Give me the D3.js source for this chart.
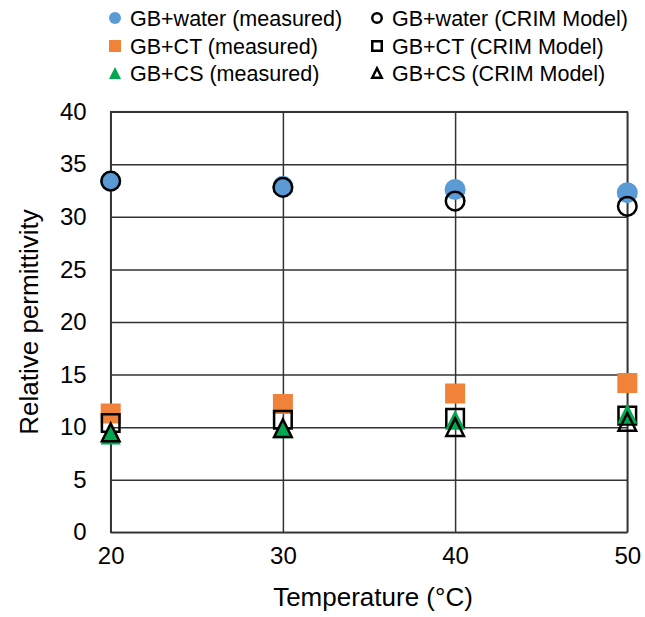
<!DOCTYPE html>
<html>
<head>
<meta charset="utf-8">
<script src="https://cdn.jsdelivr.net/npm/d3@7"></script>
<style>
  html, body { margin: 0; padding: 0; background: #fff; }
  svg { display: block; font-family: "Liberation Sans", Arial, sans-serif; }
</style>
</head>
<body>
<svg id="chart" width="645" height="617"></svg>
<script>
// Temperatures (°C) at which permittivity was evaluated
const temperatures = [20, 30, 40, 50];

// Relative permittivity, measured
const waterMeasured = [33.4, 32.9, 32.6, 32.3];
const ctMeasured    = [11.3, 12.2, 13.2, 14.2];
const csMeasured    = [9.3, 9.9, 10.7, 11.3];

// Relative permittivity, CRIM model
const waterCrim = [33.4, 32.8, 31.5, 31.0];
const ctCrim    = [10.4, 10.7, 10.9, 11.1];
const csCrim    = [9.5, 9.9, 10.0, 10.5];

const xTicks = [20, 30, 40, 50];
const yTicks = [0, 5, 10, 15, 20, 25, 30, 35, 40];

const seriesNames = [
  "GB+water (measured)", "GB+water (CRIM Model)",
  "GB+CT (measured)", "GB+CT (CRIM Model)",
  "GB+CS (measured)", "GB+CS (CRIM Model)"
];

// Series in drawing order, with marker style
const series = [
  { name: seriesNames[0], values: waterMeasured, shape: "circle",   filled: true,  color: "#5B9BD5" },
  { name: seriesNames[1], values: waterCrim,     shape: "circle",   filled: false, color: "#000" },
  { name: seriesNames[2], values: ctMeasured,    shape: "square",   filled: true,  color: "#F0823A" },
  { name: seriesNames[3], values: ctCrim,        shape: "square",   filled: false, color: "#000" },
  { name: seriesNames[4], values: csMeasured,    shape: "triangle", filled: true,  color: "#00A84F" },
  { name: seriesNames[5], values: csCrim,        shape: "triangle", filled: false, color: "#000" }
];

const svg = d3.select("#chart");
const W = 645, H = 617;
const margin = { left: 110.7, right: W - 627.3, top: 111.7, bottom: H - 532.3 };

const x = d3.scaleLinear().domain([20, 50]).range([margin.left, W - margin.right]);
const y = d3.scaleLinear().domain([0, 40]).range([H - margin.bottom, margin.top]);

const gridColor = "#333";
const fontFamily = "Liberation Sans, Arial, sans-serif";

// Horizontal gridlines
svg.append("g")
  .attr("transform", `translate(${margin.left},0)`)
  .call(d3.axisLeft(y).tickValues(yTicks).tickSize(-(x.range()[1] - x.range()[0])).tickFormat(""))
  .call(g => g.select(".domain").remove())
  .call(g => g.selectAll("line").attr("stroke", gridColor).attr("stroke-width", 1.5));

// Vertical gridlines
svg.append("g")
  .attr("transform", `translate(0,${y(0)})`)
  .call(d3.axisBottom(x).tickValues(xTicks).tickSize(-(y.range()[0] - y.range()[1])).tickFormat(""))
  .call(g => g.select(".domain").remove())
  .call(g => g.selectAll("line").attr("stroke", gridColor).attr("stroke-width", 1.5));

// Plot frame
svg.append("rect")
  .attr("x", x(20)).attr("y", y(40))
  .attr("width", x(50) - x(20)).attr("height", y(0) - y(40))
  .attr("fill", "none").attr("stroke", gridColor).attr("stroke-width", 1.5);

// Tick labels
const yAxis = svg.append("g")
  .attr("transform", `translate(${margin.left},0)`)
  .call(d3.axisLeft(y).tickValues(yTicks).tickSize(0).tickPadding(24));
yAxis.select(".domain").remove();
yAxis.selectAll("text").attr("font-size", 24).attr("fill", "#000").attr("font-family", fontFamily);

const xAxis = svg.append("g")
  .attr("transform", `translate(0,${y(0)})`)
  .call(d3.axisBottom(x).tickValues(xTicks).tickSize(0).tickPadding(15));
xAxis.select(".domain").remove();
xAxis.selectAll("text").attr("font-size", 24).attr("fill", "#000").attr("font-family", fontFamily);

// Axis titles
svg.append("text")
  .attr("x", 373).attr("y", 606)
  .attr("text-anchor", "middle").attr("font-size", 26)
  .text("Temperature (°C)");

svg.append("text")
  .attr("transform", `translate(38,${(y(0) + y(40)) / 2}) rotate(-90)`)
  .attr("text-anchor", "middle").attr("font-size", 26)
  .text("Relative permittivity");

// Marker path generators
function markerPath(shape, size) {
  if (shape === "circle") {
    const r = size / 2;
    return `M${-r},0A${r},${r} 0 1,0 ${r},0A${r},${r} 0 1,0 ${-r},0Z`;
  }
  if (shape === "square") {
    const h = size / 2;
    return `M${-h},${-h}H${h}V${h}H${-h}Z`;
  }
  const h = size / 2;
  return `M0,${-h}L${h},${h}L${-h},${h}Z`;
}

// Data markers
series.forEach(s => {
  const full = s.shape === "circle" ? 21 : 20;
  const openSize = s.shape === "circle" ? 18.6 : 17.6;
  svg.append("g").selectAll("path")
    .data(temperatures.map((t, i) => ({ t, v: s.values[i] })))
    .join("path")
    .attr("transform", d => `translate(${x(d.t)},${y(d.v)})`)
    .attr("d", markerPath(s.shape, s.filled ? full : openSize))
    .attr("fill", s.filled ? s.color : "none")
    .attr("stroke", s.filled ? "none" : s.color)
    .attr("stroke-width", s.filled ? 0 : 2.5)
    .attr("stroke-linejoin", "miter");
});

// Legend: measured series on the left, CRIM model on the right
const legendCols = [115, 377];
const legendRows = [18, 46, 73];
const legendItems = [
  { s: series[0], col: 0, row: 0 },
  { s: series[2], col: 0, row: 1 },
  { s: series[4], col: 0, row: 2 },
  { s: series[1], col: 1, row: 0 },
  { s: series[3], col: 1, row: 1 },
  { s: series[5], col: 1, row: 2 }
];
const legend = svg.append("g");
legendItems.forEach(it => {
  const cx = legendCols[it.col], cy = legendRows[it.row];
  legend.append("path")
    .attr("transform", `translate(${cx},${cy})`)
    .attr("d", markerPath(it.s.shape, it.s.filled ? 12 : 9.5))
    .attr("fill", it.s.filled ? it.s.color : "none")
    .attr("stroke", it.s.filled ? "none" : it.s.color)
    .attr("stroke-width", it.s.filled ? 0 : 2.5);
  legend.append("text")
    .attr("x", cx + 15).attr("y", cy)
    .attr("dy", "0.35em")
    .attr("font-size", 21.5)
    .text(it.s.name);
});
</script>
</body>
</html>
